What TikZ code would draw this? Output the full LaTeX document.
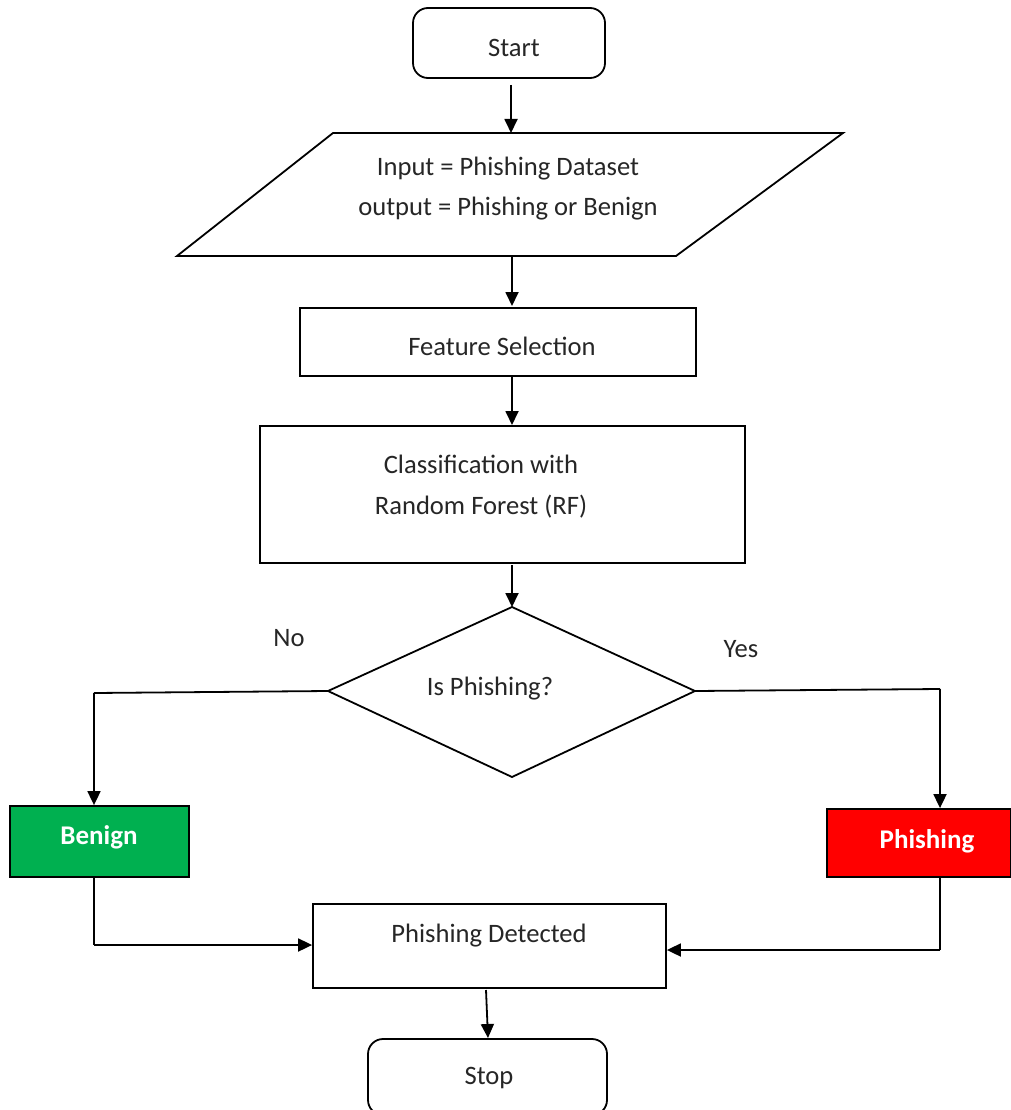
\documentclass[tikz,border=0pt]{standalone}
\usepackage{fontspec}
\setmainfont{Carlito}
\usetikzlibrary{arrows.meta}
\definecolor{txt}{HTML}{262626}
\definecolor{benigngreen}{HTML}{00B050}
\definecolor{phishred}{HTML}{FF0000}
\tikzset{
  every node/.style={font=\fontsize{26.6}{38}\selectfont, text=txt},
  shapeline/.style={draw=black, line width=1.8pt},
  box/.style={shapeline, rectangle, inner sep=0pt},
  term/.style={box, rounded corners=15pt},
  lbl/.style={inner sep=0pt, align=center},
  boldlbl/.style={lbl, text=white, font=\fontsize{27}{34}\selectfont\bfseries},
  conn/.style={line width=1.8pt, draw=black},
  arr/.style={conn, -{Triangle[width=13pt,length=14pt]}}
}
\begin{document}
\begin{tikzpicture}[x=1pt,y=-1pt]
\useasboundingbox (0,0) rectangle (1010,1110);
% Start
\node[term, minimum width=192pt, minimum height=70pt] (start) at (509,43) {};
\node[lbl] (startT) at (514,48) {Start};
% Input parallelogram
\coordinate (pTL) at (333,133);
\coordinate (pTR) at (843,133);
\coordinate (pBR) at (676,256);
\coordinate (pBL) at (177,256);
\coordinate (pTop) at (511,133);
\coordinate (pBot) at (512,256);
\draw[shapeline, line join=miter] (pTL) -- (pTR) -- (pBR) -- (pBL) -- cycle;
\node[lbl] (inT) at (508,169) {Input = Phishing Dataset};
\node[lbl] (outT) at (508,209) {output = Phishing or Benign};
% Feature selection
\node[box, minimum width=396pt, minimum height=68pt] (feat) at (498,342) {};
\node[lbl] (featT) at (502,346) {Feature Selection};
% Classification
\node[box, minimum width=485pt, minimum height=137pt] (cls) at (502.5,494.5) {};
\node[lbl, align=center] (clsT) at (481,487) {Classification with\\[3pt]Random Forest (RF)};
% Decision
\coordinate (dT) at (512,607);
\coordinate (dR) at (695,691);
\coordinate (dB) at (512,777);
\coordinate (dL) at (328,691);
\draw[shapeline, line join=miter] (dT) -- (dR) -- (dB) -- (dL) -- cycle;
\node[lbl] (decT) at (490,689) {Is Phishing?};
\node[lbl] (no) at (289,638) {No};
\node[lbl] (yes) at (741,649) {Yes};
% Outcome boxes
\node[box, fill=benigngreen, minimum width=179pt, minimum height=71pt] (benign) at (99.5,841.5) {};
\node[boldlbl] (benignT) at (99,837) {Benign};
\node[box, fill=phishred, minimum width=184pt, minimum height=68pt] (phish) at (919,843) {};
\node[boldlbl] (phishT) at (927,841) {Phishing};
% Phishing detected
\node[box, minimum width=353pt, minimum height=84pt] (det) at (489.5,946) {};
\node[lbl] (detT) at (489,936) {Phishing Detected};
% Stop
\node[term, minimum width=239pt, minimum height=76pt] (stop) at (487.5,1077) {};
\node[lbl] (stopT) at (489,1078) {Stop};
% Connectors
\draw[arr] (511,85) -- (pTop);
\draw[arr] (pBot) -- (512,306);
\draw[arr] (512,377) -- (512,425);
\draw[arr] (512,565) -- (dT);
\coordinate (lCorner) at (94,693);
\coordinate (rCorner) at (940,689);
\draw[conn] (dL) -- (lCorner);
\draw[arr] (lCorner) -- (lCorner |- benign.north);
\draw[conn] (dR) -- (rCorner);
\draw[arr] (rCorner) -- (rCorner |- phish.north);
\coordinate (bDown) at (94,945);
\coordinate (pDown) at (940,950);
\draw[conn] (bDown |- benign.south) -- (bDown);
\draw[arr] (bDown) -- (bDown -| det.west);
\draw[conn] (pDown |- phish.south) -- (pDown);
\draw[arr] (pDown) -- (pDown -| det.east);
\draw[arr] (486,990) -- (488,1038);
\end{tikzpicture}
\end{document}
